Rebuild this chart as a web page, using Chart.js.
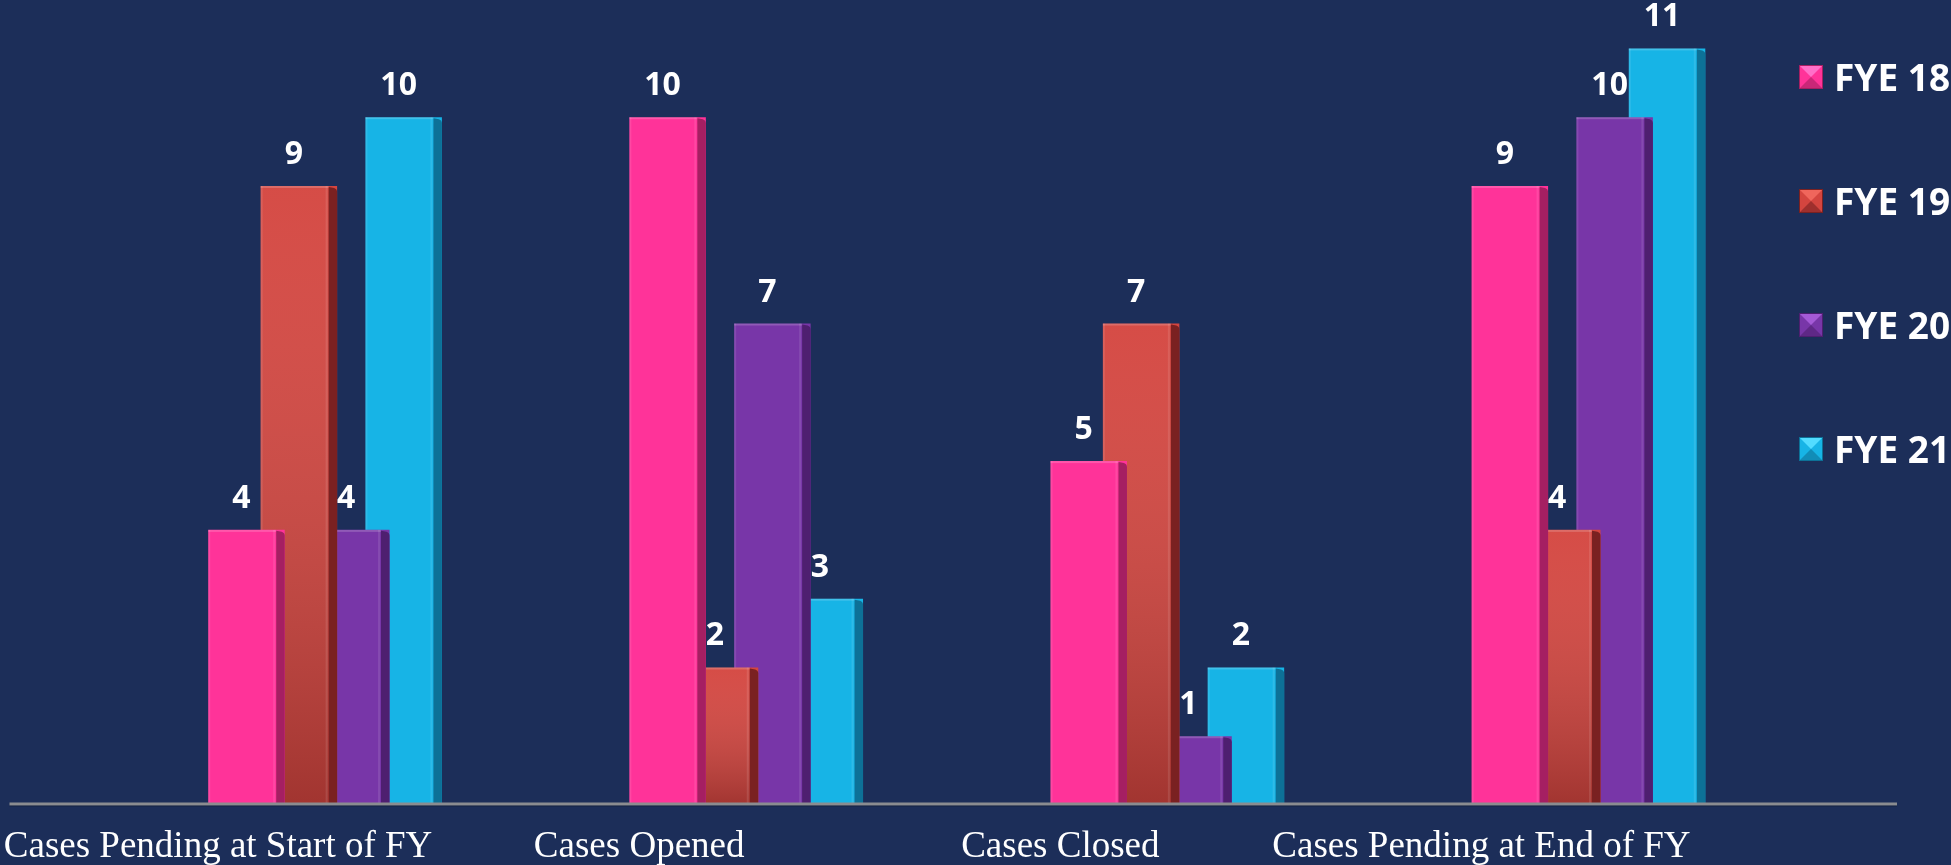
<!DOCTYPE html>
<html>
<head>
<meta charset="utf-8">
<title>Cases by fiscal year</title>
<script src="https://cdn.jsdelivr.net/npm/chart.js@4.4.0/dist/chart.umd.min.js"></script>
<style>
  html, body { margin: 0; padding: 0; background: #1c2e59; }
  #wrap { width: 1951px; height: 865px; position: relative; }
</style>
</head>
<body>
<div id="wrap"><canvas id="casesChart"></canvas></div>
<script>
// Chart data
var categories = ['Cases Pending at Start of FY', 'Cases Opened', 'Cases Closed', 'Cases Pending at End of FY'];
var seriesNames = ['FYE 18', 'FYE 19', 'FYE 20', 'FYE 21'];
var fye18 = [4, 10, 5, 9];
var fye19 = [9, 2, 7, 4];
var fye20 = [4, 7, 1, 10];
var fye21 = [10, 3, 2, 11];

// Colours: front face, dark side, light bevel
var frontColors = ['#ff3399', '#d4453f', '#7836a8', '#17b4e6'];
var sideColors = ['#a51f62', '#7a2121', '#4e1f70', '#0d7197'];
var lightColors = ['#ff6fc8', '#f0665c', '#a45ad6', '#52dcff'];

// 3D side strip + shading, drawn right after each dataset so overlap order is kept
var barSidePlugin = {
    id: 'barSide',
    afterDatasetDraw: function(chart, args) {
        var ctx = chart.ctx;
        var i = args.index;
        var sideW = 8.5;
        ctx.save();
        args.meta.data.forEach(function(bar) {
            var p = bar.getProps(['x', 'y', 'base', 'width'], true);
            var left = p.x - p.width / 2;
            var right = p.x + p.width / 2;
            var front = right - sideW;
            if (i === 1) {
                var g = ctx.createLinearGradient(0, p.y, 0, p.base);
                g.addColorStop(0, 'rgba(255,255,255,0.04)');
                g.addColorStop(1, 'rgba(0,0,0,0.24)');
                ctx.fillStyle = g;
                ctx.fillRect(left, p.y, p.width - sideW, p.base - p.y);
            }
            // side face
            ctx.fillStyle = sideColors[i];
            ctx.beginPath();
            ctx.moveTo(front, p.y + 1);
            ctx.lineTo(right - 3, p.y + 2);
            ctx.quadraticCurveTo(right, p.y + 3, right, p.y + 6);
            ctx.lineTo(right, p.base);
            ctx.lineTo(front, p.base);
            ctx.closePath();
            ctx.fill();
            // soft highlights on the front face edges
            ctx.fillStyle = 'rgba(255,255,255,0.10)';
            ctx.fillRect(left, p.y, 2, p.base - p.y);
            ctx.fillRect(front - 3, p.y, 2, p.base - p.y);
            ctx.fillStyle = 'rgba(255,255,255,0.18)';
            ctx.fillRect(left, p.y, p.width - sideW, 2);
        });
        ctx.restore();
    }
};

// Baseline and value labels
var valueLabelPlugin = {
    id: 'valueLabels',
    afterDatasetsDraw: function(chart) {
        var ctx = chart.ctx;
        var area = chart.chartArea;
        var y0 = chart.scales.y.getPixelForValue(0);
        ctx.save();
        ctx.fillStyle = '#8a8c90';
        ctx.fillRect(area.left - 105, y0 - 2.5, area.right - area.left + 203, 3);
        ctx.fillStyle = 'rgba(0,0,0,0.25)';
        ctx.fillRect(area.left - 105, y0 + 0.5, area.right - area.left + 203, 1);

        ctx.font = 'bold 32px "Open Sans"';
        ctx.fillStyle = '#ffffff';
        ctx.textAlign = 'center';
        ctx.textBaseline = 'alphabetic';
        chart.data.datasets.forEach(function(ds, i) {
            chart.getDatasetMeta(i).data.forEach(function(bar, j) {
                ctx.fillText(String(ds.data[j]), bar.x - 5, bar.y - 22);
            });
        });
        ctx.restore();
    }
};

// Bevelled legend on the right
function drawBevelBox(ctx, x, y, s, base, dark, light) {
    var cx = x + s / 2, cy = y + s / 2;
    ctx.fillStyle = base;
    ctx.fillRect(x, y, s, s);
    ctx.fillStyle = light;
    ctx.beginPath(); ctx.moveTo(x, y); ctx.lineTo(x + s, y); ctx.lineTo(cx, cy); ctx.closePath(); ctx.fill();
    ctx.fillStyle = dark;
    ctx.globalAlpha = 0.6;
    ctx.beginPath(); ctx.moveTo(x, y + s); ctx.lineTo(x + s, y + s); ctx.lineTo(cx, cy); ctx.closePath(); ctx.fill();
    ctx.globalAlpha = 1;
    ctx.strokeStyle = dark;
    ctx.lineWidth = 1;
    ctx.strokeRect(x + 0.5, y + 0.5, s - 1, s - 1);
}

var sideLegendPlugin = {
    id: 'sideLegend',
    afterDraw: function(chart) {
        var ctx = chart.ctx;
        var boxX = chart.chartArea.right;
        var size = 24;
        ctx.save();
        chart.data.datasets.forEach(function(ds, i) {
            var cy = 77 + 124 * i;
            drawBevelBox(ctx, boxX, cy - size / 2, size, frontColors[i], sideColors[i], lightColors[i]);
            ctx.font = 'bold 37px "Open Sans"';
            ctx.fillStyle = '#ffffff';
            ctx.textAlign = 'left';
            ctx.textBaseline = 'alphabetic';
            ctx.fillText(ds.label, boxX + 35, cy + 13.5);
        });
        ctx.restore();
    }
};

function buildChart() {
    var seriesData = [fye18, fye19, fye20, fye21];
    var datasets = seriesData.map(function(values, i) {
        return {
            label: seriesNames[i],
            data: values,
            backgroundColor: frontColors[i],
            borderWidth: 0,
            categoryPercentage: 0.4977,
            barPercentage: 1.46
        };
    });

    var ctx = document.getElementById('casesChart').getContext('2d');
    new Chart(ctx, {
        type: 'bar',
        data: {
            labels: categories,
            datasets: datasets
        },
        options: {
            responsive: true,
            maintainAspectRatio: false,
            animation: false,
            layout: {
                padding: { left: 114.5, right: 152, top: 14, bottom: 0 }
            },
            plugins: {
                legend: { display: false },
                tooltip: { enabled: false }
            },
            scales: {
                x: {
                    grid: { display: false, drawTicks: false },
                    border: { display: false },
                    ticks: {
                        color: '#ffffff',
                        font: { family: '"Liberation Serif", "Times New Roman", serif', size: 37 },
                        padding: 20,
                        labelOffset: -107,
                        autoSkip: false,
                        maxRotation: 0,
                        minRotation: 0
                    },
                    afterFit: function(scale) { scale.height = 60; }
                },
                y: {
                    display: false,
                    min: 0,
                    max: 11.5
                }
            }
        },
        plugins: [barSidePlugin, valueLabelPlugin, sideLegendPlugin]
    });
}

if (document.fonts && document.fonts.load) {
    Promise.all([
        document.fonts.load('bold 32px "Open Sans"'),
        document.fonts.load('37px "Liberation Serif"')
    ]).then(buildChart, buildChart);
} else {
    buildChart();
}
</script>
</body>
</html>
